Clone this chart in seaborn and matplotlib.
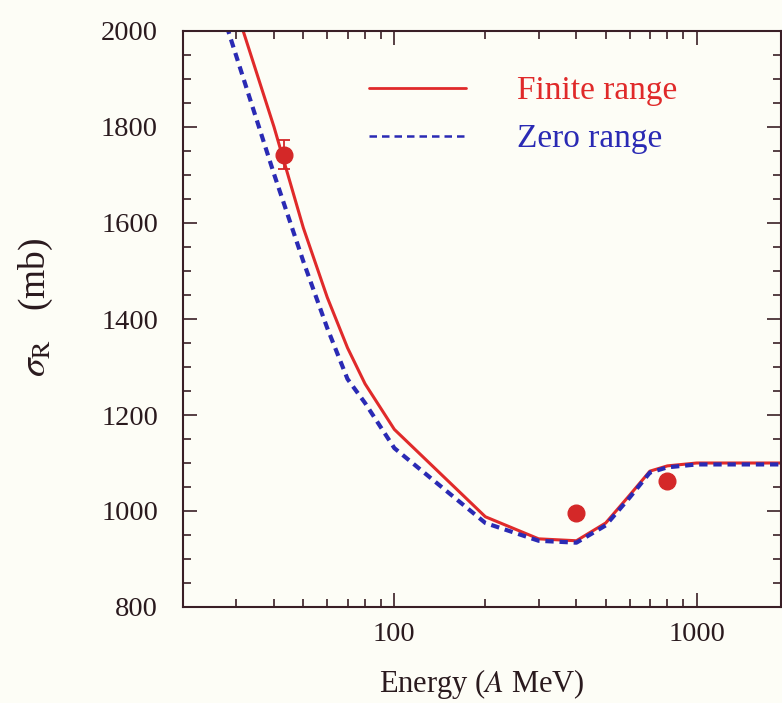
import numpy as np
import pandas as pd
import matplotlib
matplotlib.use("Agg")
import matplotlib.pyplot as plt
from matplotlib.ticker import FixedLocator, MultipleLocator, LogLocator, NullFormatter
import seaborn as sns

# Reaction cross section vs. beam energy
energy = [25, 30, 40, 50, 60, 70, 80, 100, 200, 300, 400, 500, 600, 700, 800, 1000, 2000]
finite_range = [2200, 2045, 1800, 1590, 1445, 1340, 1265, 1170, 988, 942, 938, 975, 1033, 1083, 1094, 1100, 1100]
zero_range = [2104, 1948, 1702, 1520, 1381, 1275, 1225, 1131, 975, 938, 934, 970, 1028, 1080, 1091, 1097, 1097]

exp_energy = [43, 400, 800]
exp_sigma = [1742, 996, 1062]
exp_err = [30, 0, 0]

x_ticks = [100, 1000]
x_tick_labels = ["100", "1000"]
y_ticks = [800, 1000, 1200, 1400, 1600, 1800, 2000]

RED = "#e02a2a"
BLUE = "#2a2ab4"
INK = "#3a1f26"
PAPER = "#fdfdf6"

sns.set_theme(style="ticks")
plt.rcParams["font.family"] = ["Liberation Serif", "DejaVu Serif"]
plt.rcParams["mathtext.fontset"] = "stix"

curves = pd.concat([
    pd.DataFrame({"E": energy, "sigma": finite_range, "model": "Finite range"}),
    pd.DataFrame({"E": energy, "sigma": zero_range, "model": "Zero range"}),
])

fig = plt.figure(figsize=(7.82, 7.03), dpi=100, facecolor=PAPER)
ax = fig.add_axes([183 / 782, 96 / 703, (781 - 183) / 782, (607 - 31) / 703])
ax.set_facecolor(PAPER)

sns.lineplot(data=curves[curves.model == "Finite range"], x="E", y="sigma",
             color=RED, lw=2.2, sort=False, ax=ax, label="Finite range")
sns.lineplot(data=curves[curves.model == "Zero range"], x="E", y="sigma",
             color=BLUE, lw=3.0, sort=False, ax=ax, label="Zero range",
             dashes=False)
ax.lines[-1].set_linestyle((0, (2.0, 1.4)))

ax.errorbar(exp_energy, exp_sigma, yerr=exp_err, fmt="o", color="#d42828",
            ms=12, capsize=4.5, elinewidth=1.3, capthick=1.3, zorder=5)

ax.set_xscale("log")
ax.set_xlim(20, 1900)
ax.set_ylim(800, 2000)

ax.xaxis.set_major_locator(FixedLocator(x_ticks))
ax.set_xticklabels(x_tick_labels)
ax.xaxis.set_minor_locator(LogLocator(base=10, subs=np.arange(2, 10)))
ax.xaxis.set_minor_formatter(NullFormatter())
ax.yaxis.set_major_locator(FixedLocator(y_ticks))
ax.yaxis.set_minor_locator(MultipleLocator(50))

ax.tick_params(which="both", direction="in", top=True, right=True,
               color=INK, labelcolor="#2a1a1e", labelsize=20.5)
ax.tick_params(which="major", length=10, width=1.2)
ax.tick_params(which="minor", length=6, width=1.2)
ax.tick_params(axis="y", which="both", pad=18)
ax.tick_params(axis="x", which="both", pad=11)

for s in ax.spines.values():
    s.set_color(INK)
    s.set_linewidth(1.5)

ax.set_xlabel(r"Energy ($A$ MeV)", fontsize=22, color="#2a1a1e", labelpad=14)
ax.set_ylabel(r"$\sigma_{\rm R}$   (mb)", fontsize=27, color="#2a1a1e", labelpad=33)
ax.yaxis.label.set_y(0.52)

leg = ax.legend(loc="upper left", bbox_to_anchor=(0.311, 0.922), frameon=False,
                fontsize=24, handlelength=2.9, handletextpad=1.55,
                labelspacing=0.52, borderpad=0, borderaxespad=0,
                labelcolor="linecolor")
leg.get_lines()[0].set_linewidth(2.0)
leg.get_lines()[1].set_linewidth(1.8)
leg.get_lines()[1].set_linestyle((0, (3, 2)))

fig.savefig("out.png", dpi=100, facecolor=PAPER)
